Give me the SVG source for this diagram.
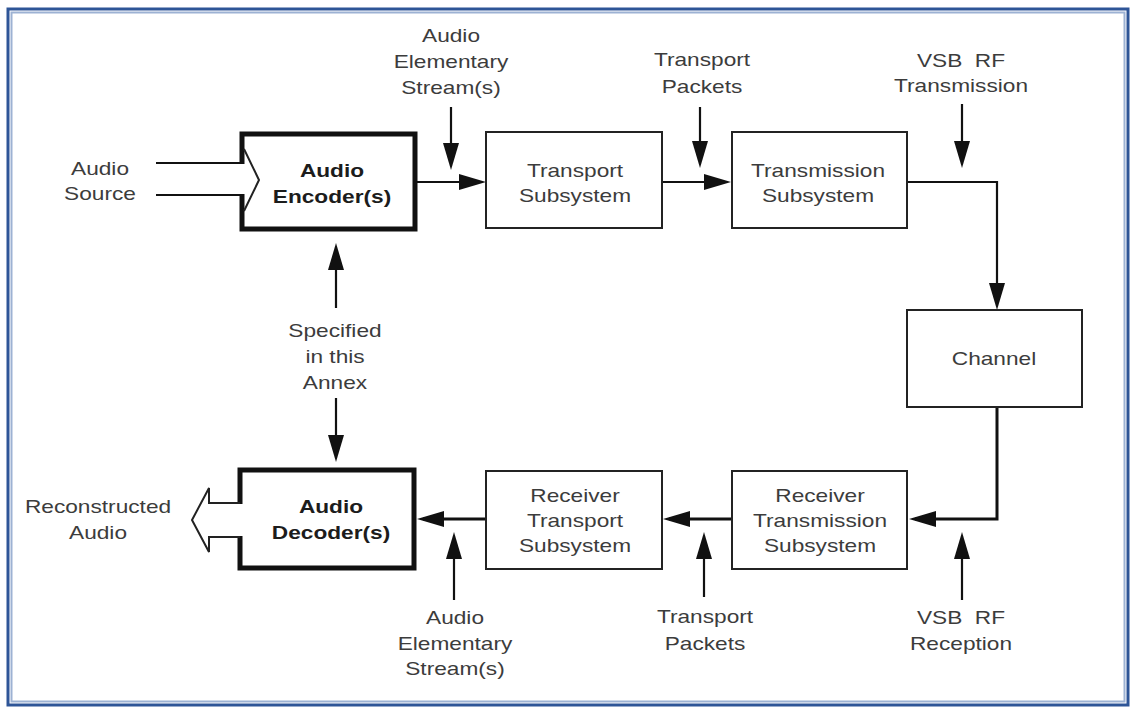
<svg xmlns="http://www.w3.org/2000/svg" width="1132" height="707" viewBox="0 0 1132 707">
<style>
  text { font-family: "Liberation Sans", Arial, sans-serif; font-size: 18px; fill: #3c3c3c; text-anchor: middle; white-space: pre; }
  .b { font-weight: bold; fill: #1c1c1c; }
  .box { fill: #fff; stroke: #232323; stroke-width: 2; }
  .thick { fill: none; stroke: #111; stroke-width: 5; stroke-linejoin: miter; }
  .thin { fill: #fff; stroke: #222; stroke-width: 2; stroke-linejoin: miter; }
  .wire { fill: none; stroke: #111; stroke-width: 2.2; }
  .wire3 { fill: none; stroke: #111; stroke-width: 3; }
</style>
<defs>
  <marker id="ah" markerUnits="userSpaceOnUse" markerWidth="27" markerHeight="17" refX="21" refY="8" orient="auto" overflow="visible">
    <path d="M0,0 L27,8 L0,16 Z" fill="#111"/>
  </marker>
</defs>

<!-- page frame -->
<rect x="0" y="0" width="1132" height="707" fill="#fff"/>
<rect x="8" y="9" width="1120" height="696" fill="none" stroke="#2e5597" stroke-width="3"/>
<rect x="11.5" y="12.5" width="1113" height="689" fill="none" stroke="#9db2d3" stroke-width="2"/>

<!-- connectors -->
<g id="connectors">
  <path class="wire" d="M416,182 L480,182" marker-end="url(#ah)"/>
  <path class="wire" d="M663,182 L725,182" marker-end="url(#ah)"/>
  <path class="wire" d="M908,182 L997,182 L997,304" marker-end="url(#ah)"/>
  <path class="wire3" d="M997,408 L997,519 L915,519" marker-end="url(#ah)"/>
  <path class="wire3" d="M731,519 L669,519" marker-end="url(#ah)"/>
  <path class="wire3" d="M485,519 L423,519" marker-end="url(#ah)"/>
  <path class="wire" d="M451,107 L451,164" marker-end="url(#ah)"/>
  <path class="wire" d="M700,107 L700,162" marker-end="url(#ah)"/>
  <path class="wire" d="M962,104 L962,162" marker-end="url(#ah)"/>
  <path class="wire" d="M336,308 L336,249" marker-end="url(#ah)"/>
  <path class="wire" d="M336,398 L336,456" marker-end="url(#ah)"/>
  <path class="wire" d="M454,600 L454,538" marker-end="url(#ah)"/>
  <path class="wire" d="M704,597 L704,538" marker-end="url(#ah)"/>
  <path class="wire" d="M962,600 L962,538" marker-end="url(#ah)"/>
</g>

<!-- nodes -->
<g id="audio-source">
  <text transform="translate(100 0) scale(1.26 1)"><tspan x="0" y="175">Audio</tspan><tspan x="0" y="200">Source</tspan></text>
</g>

<g id="audio-encoder">
  <rect x="242" y="134" width="173" height="95" fill="#fff"/>
  <path class="thick" d="M242,164 L242,134 L415,134 L415,229 L242,229 L242,194"/>
  <!-- hollow input arrow -->
  <path class="wire" d="M156,163 L244,163 M156,195 L244,195"/>
  <path fill="none" stroke="#222" stroke-width="2" d="M244,149 L259,180 L244,211"/>
  <text class="b" transform="translate(332 0) scale(1.26 1)"><tspan x="0" y="177">Audio</tspan><tspan x="0" y="203">Encoder(s)</tspan></text>
</g>

<g id="transport-subsystem">
  <rect class="box" x="486" y="132" width="176" height="96"/>
  <text transform="translate(575 0) scale(1.26 1)"><tspan x="0" y="177">Transport</tspan><tspan x="0" y="202">Subsystem</tspan></text>
</g>

<g id="transmission-subsystem">
  <rect class="box" x="732" y="132" width="175" height="96"/>
  <text transform="translate(818 0) scale(1.26 1)"><tspan x="0" y="177">Transmission</tspan><tspan x="0" y="202">Subsystem</tspan></text>
</g>

<g id="channel">
  <rect class="box" x="907" y="310" width="175" height="97"/>
  <text transform="translate(994 0) scale(1.26 1)"><tspan x="0" y="365">Channel</tspan></text>
</g>

<g id="receiver-transmission-subsystem">
  <rect class="box" x="732" y="471" width="175" height="98"/>
  <text transform="translate(820 0) scale(1.26 1)"><tspan x="0" y="502">Receiver</tspan><tspan x="0" y="527">Transmission</tspan><tspan x="0" y="552">Subsystem</tspan></text>
</g>

<g id="receiver-transport-subsystem">
  <rect class="box" x="486" y="471" width="176" height="98"/>
  <text transform="translate(575 0) scale(1.26 1)"><tspan x="0" y="502">Receiver</tspan><tspan x="0" y="527">Transport</tspan><tspan x="0" y="552">Subsystem</tspan></text>
</g>

<g id="audio-decoder">
  <rect x="240" y="470" width="174" height="98" fill="#fff"/>
  <path class="thick" d="M240,504 L240,470 L414,470 L414,568 L240,568 L240,536"/>
  <!-- hollow output arrow -->
  <path class="thin" d="M240,503 L209,503 L209,488 L192,520 L209,552 L209,537 L240,537"/>
  <text class="b" transform="translate(331 0) scale(1.26 1)"><tspan x="0" y="513">Audio</tspan><tspan x="0" y="539">Decoder(s)</tspan></text>
</g>

<g id="reconstructed-audio">
  <text transform="translate(98 0) scale(1.26 1)"><tspan x="0" y="513">Reconstructed</tspan><tspan x="0" y="539">Audio</tspan></text>
</g>

<g id="annex-note">
  <text transform="translate(335 0) scale(1.26 1)"><tspan x="0" y="337">Specified</tspan><tspan x="0" y="363">in this</tspan><tspan x="0" y="389">Annex</tspan></text>
</g>

<g id="label-es-top">
  <text transform="translate(451 0) scale(1.26 1)"><tspan x="0" y="42">Audio</tspan><tspan x="0" y="68">Elementary</tspan><tspan x="0" y="94">Stream(s)</tspan></text>
</g>
<g id="label-packets-top">
  <text transform="translate(702 0) scale(1.26 1)"><tspan x="0" y="66">Transport</tspan><tspan x="0" y="93">Packets</tspan></text>
</g>
<g id="label-vsb-tx">
  <text transform="translate(961 0) scale(1.26 1)"><tspan x="0" y="67">VSB  RF</tspan><tspan x="0" y="92">Transmission</tspan></text>
</g>
<g id="label-es-bottom">
  <text transform="translate(455 0) scale(1.26 1)"><tspan x="0" y="624">Audio</tspan><tspan x="0" y="650">Elementary</tspan><tspan x="0" y="675">Stream(s)</tspan></text>
</g>
<g id="label-packets-bottom">
  <text transform="translate(705 0) scale(1.26 1)"><tspan x="0" y="623">Transport</tspan><tspan x="0" y="650">Packets</tspan></text>
</g>
<g id="label-vsb-rx">
  <text transform="translate(961 0) scale(1.26 1)"><tspan x="0" y="624">VSB  RF</tspan><tspan x="0" y="650">Reception</tspan></text>
</g>
</svg>
